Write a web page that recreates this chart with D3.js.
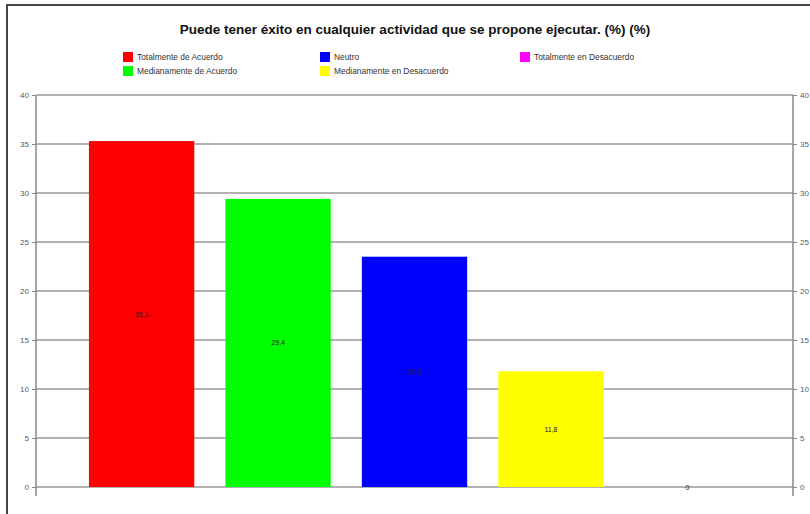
<!DOCTYPE html>
<html><head><meta charset="utf-8">
<script src="https://cdn.jsdelivr.net/npm/d3@7"></script>
<style>body{margin:0;background:#fff}svg{display:block}</style>
</head><body>
<svg id="c" width="810" height="514"></svg>
<script>
const categories = ["Totalmente de Acuerdo","Medianamente de Acuerdo","Neutro","Medianamente en Desacuerdo","Totalmente en Desacuerdo"];
const values = [35.3, 29.4, 23.5, 11.8, 0];
const colors = ["#ff0000","#00ff00","#0000ff","#ffff00","#ff00ff"];
const yTicks = [0,5,10,15,20,25,30,35,40];
const legendOrder = [0,2,4,1,3];
const title = "Puede tener éxito en cualquier actividad que se propone ejecutar. (%) (%)";

const svg = d3.select("#c");
const fmt = v => String(v).replace(".", ",");

// frame
svg.append("path").attr("d","M7,514 V5 H810").attr("fill","none").attr("stroke","#444").attr("stroke-width",2);

const L = 36, R = 793, T = 95, B = 487;
const x = d3.scaleBand().domain(categories).range([L, R]).paddingInner(0.228).paddingOuter(0.388);
const y = d3.scaleLinear().domain([0, 40]).range([B, T]);

// gridlines
svg.append("g").selectAll("line").data(yTicks).join("line")
  .attr("x1", L).attr("x2", R).attr("y1", d => y(d)).attr("y2", d => y(d))
  .attr("stroke", "#999").attr("stroke-width", 1.5);

// axes
const axL = svg.append("g").attr("transform", `translate(${L},0)`)
  .call(d3.axisLeft(y).tickValues(yTicks).tickSize(4).tickPadding(3));
const axR = svg.append("g").attr("transform", `translate(${R},0)`)
  .call(d3.axisRight(y).tickValues(yTicks).tickSize(4).tickPadding(3));
[axL, axR].forEach(a => {
  a.select(".domain").remove();
  a.selectAll("line").attr("stroke", "#888");
  a.selectAll("text").attr("fill", "#4f5b6c").style("font-family", "Liberation Sans, Arial, sans-serif").style("font-size", "8px");
});
svg.append("line").attr("x1", L).attr("x2", L).attr("y1", T).attr("y2", B + 9).attr("stroke", "#888").attr("stroke-width", 1.5);
svg.append("line").attr("x1", R).attr("x2", R).attr("y1", T).attr("y2", B + 9).attr("stroke", "#888").attr("stroke-width", 1.5);

// bars
svg.append("g").selectAll("rect").data(values).join("rect")
  .attr("x", (d, i) => x(categories[i])).attr("width", x.bandwidth())
  .attr("y", d => y(d)).attr("height", d => B - y(d))
  .attr("fill", (d, i) => colors[i]);

// value labels
svg.append("g").selectAll("text").data(values).join("text")
  .attr("x", (d, i) => x(categories[i]) + x.bandwidth() / 2)
  .attr("y", d => (y(d) + B) / 2 + 2.5)
  .attr("text-anchor", "middle")
  .style("font-family", "Liberation Sans, Arial, sans-serif").style("font-size", "7px").attr("fill", "#222")
  .text(d => fmt(d));

// title
svg.append("text").attr("x", 415).attr("y", 34).attr("text-anchor", "middle")
  .style("font-family", "Liberation Sans, Arial, sans-serif").style("font-size", "13.5px").style("font-weight", "bold")
  .attr("fill", "#111").text(title);

// legend
const legX = [123, 320, 520], legY = [57, 71];
const lg = svg.append("g").selectAll("g").data(legendOrder).join("g")
  .attr("transform", (d, k) => `translate(${legX[k % 3]},${legY[Math.floor(k / 3)]})`);
lg.append("rect").attr("x", 0).attr("y", -5).attr("width", 10).attr("height", 10).attr("fill", d => colors[d]);
lg.append("text").attr("x", 14).attr("y", 3).style("font-family", "Liberation Sans, Arial, sans-serif")
  .style("font-size", "8.4px").attr("fill", "#333").text(d => categories[d]);
</script>
</body></html>
